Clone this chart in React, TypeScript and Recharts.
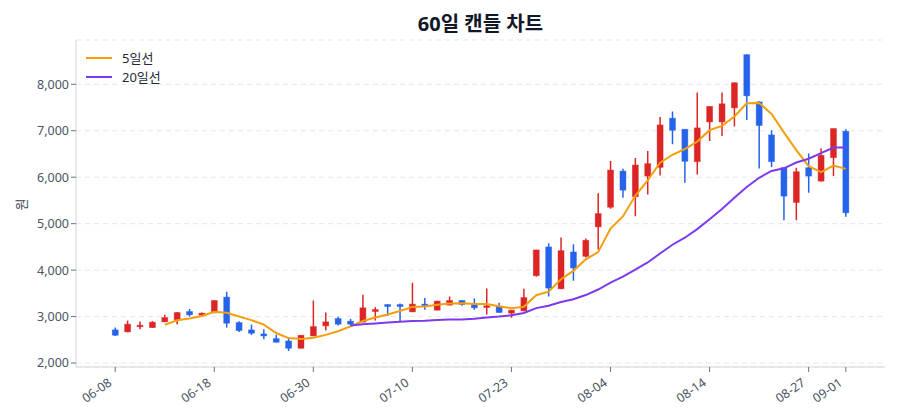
import React from 'react';
import { ComposedChart, Bar, Line, XAxis, YAxis, CartesianGrid } from 'recharts';

// 60 trading days
const dates = [
  '06-08', '06-09', '06-10', '06-11', '06-12', '06-15', '06-16', '06-17', '06-18', '06-19',
  '06-22', '06-23', '06-24', '06-25', '06-26', '06-29', '06-30', '07-01', '07-02', '07-03',
  '07-06', '07-07', '07-08', '07-09', '07-10', '07-13', '07-14', '07-15', '07-16', '07-20',
  '07-21', '07-22', '07-23', '07-24', '07-27', '07-28', '07-29', '07-30', '07-31', '08-03',
  '08-04', '08-05', '08-06', '08-07', '08-10', '08-11', '08-12', '08-13', '08-14', '08-18',
  '08-19', '08-20', '08-21', '08-24', '08-25', '08-26', '08-27', '08-28', '08-31', '09-01',
];

const opens = [
  2713, 2670, 2780, 2762, 2886, 2929, 3108, 3030, 3080, 3419,
  2870, 2713, 2626, 2525, 2475, 2317, 2583, 2799, 2957, 2900,
  2879, 3108, 3259, 3259, 3101, 3268, 3138, 3246, 3346, 3274,
  3194, 3216, 3073, 3123, 3879, 4499, 3598, 4391, 4296, 4931,
  5354, 6132, 5579, 6024, 6212, 7270, 7033, 6335, 7190, 7190,
  7493, 8638, 7622, 6910, 6205, 5456, 6205, 5916, 6421, 6990,
];

const highs = [
  2762, 2914, 2892, 2900, 3037, 3100, 3166, 3090, 3350, 3534,
  2900, 2827, 2728, 2611, 2525, 2600, 3346, 3086, 2994, 2950,
  3469, 3203, 3262, 3281, 3728, 3397, 3340, 3432, 3350, 3389,
  3605, 3296, 3145, 3598, 4440, 4577, 4700, 4555, 4678, 5657,
  6348, 6184, 6413, 6564, 7298, 7415, 7040, 7826, 7530, 7826,
  8040, 8645, 7637, 7011, 6210, 6205, 6508, 6622, 7050, 7033,
];

const lows = [
  2583, 2660, 2728, 2755, 2880, 2827, 3000, 3025, 3075, 2762,
  2670, 2605, 2512, 2440, 2259, 2310, 2578, 2698, 2806, 2806,
  2875, 2914, 3015, 2900, 3095, 3145, 3130, 3240, 3231, 3145,
  3043, 3080, 2972, 3115, 3860, 3432, 3590, 3771, 4274, 4441,
  5320, 5557, 5160, 5629, 6039, 6709, 5881, 6061, 6780, 6888,
  7091, 7234, 6190, 6219, 5074, 5074, 5665, 5910, 6024, 5147,
];

const closes = [
  2598, 2836, 2814, 2879, 2978, 3086, 3037, 3073, 3346, 2857,
  2698, 2641, 2583, 2447, 2317, 2598, 2784, 2886, 2836, 2836,
  3188, 3151, 3216, 3216, 3268, 3238, 3333, 3346, 3259, 3188,
  3231, 3086, 3138, 3410, 4434, 3613, 4419, 4045, 4642, 5218,
  6154, 5722, 6262, 6292, 7126, 7011, 6342, 7062, 7523, 7580,
  8033, 7752, 7113, 6335, 5592, 6119, 6024, 6471, 7047, 5233,
];

const ma5 = [
  null, null, null, null, 2821, 2919, 2959, 3011, 3104, 3080,
  3002, 2923, 2825, 2645, 2537, 2517, 2546, 2606, 2684, 2788,
  2906, 2979, 3045, 3121, 3208, 3218, 3254, 3280, 3289, 3273,
  3271, 3222, 3180, 3211, 3460, 3536, 3803, 3984, 4231, 4387,
  4896, 5156, 5600, 5930, 6311, 6483, 6607, 6767, 7013, 7104,
  7308, 7590, 7600, 7363, 6965, 6582, 6237, 6108, 6251, 6179,
];

const ma20 = [
  null, null, null, null, null, null, null, null, null, null,
  null, null, null, null, null, null, null, null, null, 2807,
  2836, 2852, 2872, 2889, 2903, 2911, 2926, 2939, 2935, 2951,
  2978, 3000, 3028, 3076, 3182, 3233, 3315, 3373, 3463, 3582,
  3730, 3859, 4011, 4165, 4358, 4546, 4697, 4883, 5096, 5316,
  5556, 5789, 5988, 6134, 6192, 6317, 6397, 6519, 6639, 6640,
];

const xTicks = ['06-08', '06-18', '06-30', '07-10', '07-23', '08-04', '08-14', '08-27', '09-01'];
const yTicks = [2000, 3000, 4000, 5000, 6000, 7000, 8000];

const UP = '#dc2626';
const DOWN = '#2563eb';
const MA5_COLOR = '#f59e0b';
const MA20_COLOR = '#7c3aed';
const FONT = '"Noto Sans", "Noto Sans CJK KR", sans-serif';

const legendItems = [
  { name: '5일선', color: MA5_COLOR },
  { name: '20일선', color: MA20_COLOR },
];

const rows = dates.map((date, i) => ({
  date,
  open: opens[i],
  high: highs[i],
  low: lows[i],
  close: closes[i],
  range: [lows[i], highs[i]],
  ma5: ma5[i],
  ma20: ma20[i],
}));

function Candle(props: any) {
  const { x, y, width, height, payload } = props;
  if (x == null || y == null) return null;
  const { open, close, high, low } = payload;
  const top = Math.min(y, y + height);
  const h = Math.abs(height);
  const cx = x + width / 2;
  const k = h / (high - low || 1);
  const bodyTop = top + (high - Math.max(open, close)) * k;
  const bodyBottom = top + (high - Math.min(open, close)) * k;
  const color = close >= open ? UP : DOWN;
  const bodyW = 6;
  return (
    <g>
      <line x1={cx} x2={cx} y1={top} y2={top + h} stroke={color} strokeWidth={1.5} />
      <rect
        x={cx - bodyW / 2}
        y={bodyTop}
        width={bodyW}
        height={Math.max(bodyBottom - bodyTop, 1.5)}
        fill={color}
        stroke={color}
        strokeOpacity={0.5}
        strokeWidth={0.8}
      />
    </g>
  );
}

// rotated date labels under the x axis
function DateTick(props: any) {
  const { x, y, payload } = props;
  return (
    <g transform={`translate(${x - 5}, ${y + 7}) rotate(-35)`}>
      <text x={0} y={0} dy="0.35em" textAnchor="end" fontSize={12.5} fill="#4b5563" fontFamily={FONT}>
        {payload.value}
      </text>
    </g>
  );
}

function YLabel(props: any) {
  const vb = props.viewBox || {};
  const cx = (vb.x || 0) + 11;
  const cy = (vb.y || 0) + (vb.height || 0) / 2 + 1;
  return (
    <text
      x={cx}
      y={cy}
      transform={`rotate(-90, ${cx}, ${cy})`}
      textAnchor="middle"
      dominantBaseline="central"
      fontSize={13}
      fill="#374151"
      fontFamily={FONT}
    >
      원
    </text>
  );
}

export default function App() {
  return (
    <div style={{ position: 'absolute', left: 0, top: 0, width: 900, height: 420, background: '#fff', fontFamily: FONT }}>
      <div
        style={{
          position: 'absolute',
          left: 76,
          width: 809,
          top: 8,
          textAlign: 'center',
          fontSize: 20,
          fontWeight: 700,
          color: '#111827',
        }}
      >
        60일 캔들 차트
      </div>

      <ComposedChart width={900} height={420} data={rows} margin={{ top: 40, right: 15, bottom: 0, left: 10 }}>
        <CartesianGrid vertical={false} stroke="#e5e7eb" strokeDasharray="5 4" />
        <XAxis
          dataKey="date"
          ticks={xTicks}
          interval={0}
          height={53}
          padding={{ left: 33, right: 33 }}
          stroke="#d1d5db"
          tickLine={{ stroke: '#6b7280' }}
          tickSize={5}
          tick={<DateTick />}
        />
        <YAxis
          width={66}
          domain={[1914, 8954]}
          allowDataOverflow
          ticks={yTicks}
          stroke="#d1d5db"
          tickLine={{ stroke: '#6b7280' }}
          tickSize={5}
          tickFormatter={(v: number) => v.toLocaleString('en-US')}
          tick={{ fontSize: 12.5, fill: '#4b5563', fontFamily: FONT }}
          label={<YLabel />}
        />
        <Bar dataKey="range" shape={<Candle />} isAnimationActive={false} legendType="none" />
        <Line
          dataKey="ma5"
          name="5일선"
          type="linear"
          stroke={MA5_COLOR}
          strokeWidth={2}
          dot={false}
          activeDot={false}
          isAnimationActive={false}
        />
        <Line
          dataKey="ma20"
          name="20일선"
          type="linear"
          stroke={MA20_COLOR}
          strokeWidth={2}
          dot={false}
          activeDot={false}
          isAnimationActive={false}
        />
      </ComposedChart>

      <div style={{ position: 'absolute', left: 86, top: 48 }}>
        {legendItems.map((item) => (
          <div key={item.name} style={{ display: 'flex', alignItems: 'center', height: 19 }}>
            <span style={{ display: 'inline-block', width: 26, height: 2, background: item.color, marginRight: 10 }} />
            <span style={{ fontSize: 13, color: '#1f2937' }}>{item.name}</span>
          </div>
        ))}
      </div>
    </div>
  );
}
